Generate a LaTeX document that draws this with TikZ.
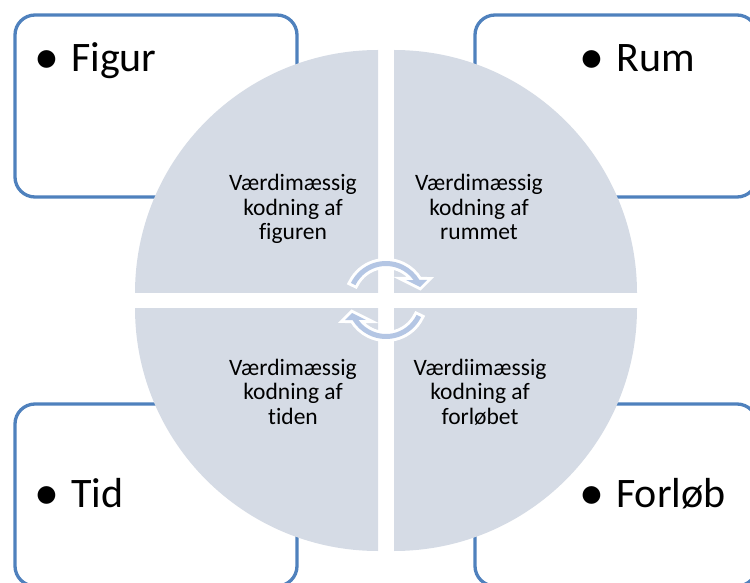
\documentclass[tikz,border=0pt]{standalone}
\usepackage{fontspec}
\setmainfont{Carlito}[Ligatures={NoCommon}]
\definecolor{boxblue}{RGB}{79,129,189}
\definecolor{piegray}{RGB}{213,219,229}
\definecolor{arrowblue}{RGB}{180,198,228}
\begin{document}
\begin{tikzpicture}[x=1pt,y=1pt,
  box/.style={draw=boxblue, line width=3.3pt, rounded corners=20pt, fill=white},
  pie/.style={fill=piegray},
  cyc/.style={preaction={draw=white, line width=6pt, line join=miter}, fill=arrowblue},
  outer/.style={inner sep=0pt, font=\fontsize{42}{50}\selectfont},
  bul/.style={inner sep=0pt, anchor=base, font=\fontsize{50}{50}\selectfont},
  innertxt/.style={inner sep=0pt, anchor=base, font=\fontsize{23.5}{24.5}\selectfont}]
\useasboundingbox (0,0) rectangle (750,582);
\clip (0,0) rectangle (750,582);
% boxes
\draw[box] (15,567) rectangle (297,385);
\draw[box] (475,567) rectangle (757,385);
\draw[box] (15,178) rectangle (297,-4);
\draw[box] (475,178) rectangle (757,-4);
% pie quarters
\fill[pie] (378,289) -- (135,289) arc[start angle=180,end angle=90,radius=243] -- cycle;
\fill[pie] (394,289) -- (394,532) arc[start angle=90,end angle=0,radius=243] -- cycle;
\fill[pie] (378,274) -- (378,31) arc[start angle=270,end angle=180,radius=243] -- cycle;
\fill[pie] (394,274) -- (637,274) arc[start angle=0,end angle=-90,radius=243] -- cycle;
% circular arrows
\begin{scope}[shift={(386,282)}]
\path[cyc] (154:39) arc[start angle=154,end angle=30.9,radius=39] -- (41,20) -- (34,13) -- (20,20) -- (36:34) arc[start angle=36,end angle=154,radius=34] -- cycle;
\path[cyc, rotate=180] (154:39) arc[start angle=154,end angle=30.9,radius=39] -- (41,20) -- (34,13) -- (20,20) -- (36:34) arc[start angle=36,end angle=154,radius=34] -- cycle;
\end{scope}
% outer labels
\node[bul] (b1) at (46.5,508) {•};
\node[outer, anchor=base west] (figur) at (71,510) {Figur};
\node[bul] (b2) at (591.5,508) {•};
\node[outer, anchor=base west] (rum) at (616,510) {Rum};
\node[bul] (b3) at (46.5,73) {•};
\node[outer, anchor=base west] (tid) at (71,75) {Tid};
\node[bul] (b4) at (592,73) {•};
\node[outer, anchor=base west] (forlob) at (616,75) {Forløb};
% inner labels
\node[innertxt] (t1) at (293,391) {\begin{tabular}[t]{@{}c@{}}Værdimæssig\\kodning af\\figuren\end{tabular}};
\node[innertxt] (t2) at (479,391) {\begin{tabular}[t]{@{}c@{}}Værdimæssig\\kodning af\\rummet\end{tabular}};
\node[innertxt] (t3) at (293,207) {\begin{tabular}[t]{@{}c@{}}Værdimæssig\\kodning af\\tiden\end{tabular}};
\node[innertxt] (t4) at (480,207) {\begin{tabular}[t]{@{}c@{}}Værdiimæssig\\kodning af\\forløbet\end{tabular}};
\end{tikzpicture}
\end{document}
